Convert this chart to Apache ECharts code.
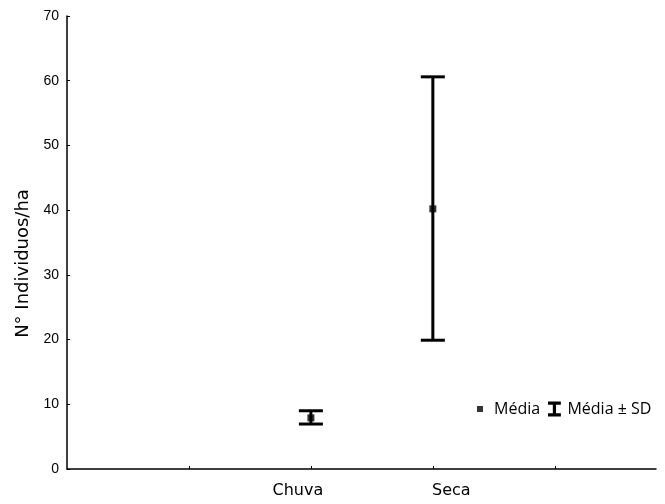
<!DOCTYPE html>
<html><head><meta charset="utf-8">
<script src="https://cdn.jsdelivr.net/npm/echarts@6/dist/echarts.min.js"></script>
<style>html,body{margin:0;padding:0;background:#fff}#c{width:665px;height:504px}</style>
</head><body><div id="c"></div>
<script>
const categories = ['Chuva', 'Seca'];
const catPos = [2, 3];
const means = [7.9, 40.2];
const upper = [9.0, 60.6];
const lower = [6.95, 19.9];
const yTicks = [0, 10, 20, 30, 40, 50, 60, 70];

const meanData = catPos.map((p, i) => [p, means[i]]);
const errData = catPos.map((p, i) => [p, lower[i], upper[i]]);

const chart = echarts.init(document.getElementById('c'), null, {renderer: 'canvas'});
chart.setOption({
  animation: false,
  backgroundColor: '#fff',
  grid: {left: 67, top: 16, right: 9, bottom: 35, containLabel: false},
  xAxis: {
    type: 'value', min: 0, max: 4.83, interval: 1,
    splitLine: {show: false},
    axisLine: {lineStyle: {color: '#000', width: 1.5}},
    axisTick: {show: true, inside: true, length: 3, customValues: [1, 2, 3, 4], lineStyle: {color: '#000'}},
    axisLabel: {
      customValues: catPos,
      margin: 14,
      color: '#000', fontFamily: 'DejaVu Sans', fontSize: 16,
      formatter: function (v) {
        const i = catPos.indexOf(Math.round(v));
        if (i === 0) return '{c|' + categories[0] + '}';
        if (i === 1) return '{s|' + categories[1] + '}';
        return '';
      },
      rich: {
        c: {fontFamily: 'DejaVu Sans', fontSize: 16, color: '#000', padding: [0, 26, 0, 0]},
        s: {fontFamily: 'DejaVu Sans', fontSize: 16, color: '#000', padding: [0, 0, 0, 37]}
      }
    }
  },
  yAxis: {
    type: 'value', min: 0, max: 70, interval: 10,
    name: 'N° Individuos/ha', nameLocation: 'middle', nameGap: 33,
    nameTextStyle: {color: '#000', fontFamily: 'DejaVu Sans', fontSize: 18, padding: [0, 42, 0, 0]},
    splitLine: {show: false},
    axisLine: {show: true, lineStyle: {color: '#000', width: 1.5}},
    axisTick: {show: true, inside: true, length: 3, lineStyle: {color: '#000'}},
    axisLabel: {color: '#000', fontFamily: 'Liberation Sans', fontSize: 14, margin: 8,
      formatter: v => yTicks.includes(v) ? String(v) : ''}
  },
  legend: [{
    data: [{name: 'Média', icon: 'rect'}],
    left: 472, top: 396, itemWidth: 6, itemHeight: 6, itemGap: 0,
    textStyle: {color: '#000', fontFamily: 'Open Sans', fontSize: 16, padding: [0, 0, 0, 6]}
  }, {
    data: [{name: 'Média ± SD', icon: 'path://M0,0h12v3h-12z M4.5,3h3v8h-3z M0,11h12v3h-12z'}],
    left: 543, top: 396, itemWidth: 14, itemHeight: 15, itemGap: 0,
    textStyle: {color: '#000', fontFamily: 'Open Sans', fontSize: 16, padding: [0, 0, 0, 1]}
  }],
  series: [{
    name: 'Média ± SD', type: 'custom',
    itemStyle: {color: '#000'},
    data: errData,
    renderItem: function (params, api) {
      const x = api.value(0);
      const lo = api.coord([x, api.value(1)]);
      const hi = api.coord([x, api.value(2)]);
      const hw = 12;
      const st = {stroke: '#000', lineWidth: 3};
      return {type: 'group', children: [
        {type: 'line', shape: {x1: lo[0], y1: lo[1], x2: hi[0], y2: hi[1]}, style: st},
        {type: 'line', shape: {x1: hi[0] - hw, y1: hi[1], x2: hi[0] + hw, y2: hi[1]}, style: st},
        {type: 'line', shape: {x1: lo[0] - hw, y1: lo[1], x2: lo[0] + hw, y2: lo[1]}, style: st}
      ]};
    },
    z: 2
  }, {
    name: 'Média', type: 'scatter', symbol: 'rect', symbolSize: 7,
    itemStyle: {color: '#000'},
    data: meanData, z: 3
  }]
});
</script></body></html>
